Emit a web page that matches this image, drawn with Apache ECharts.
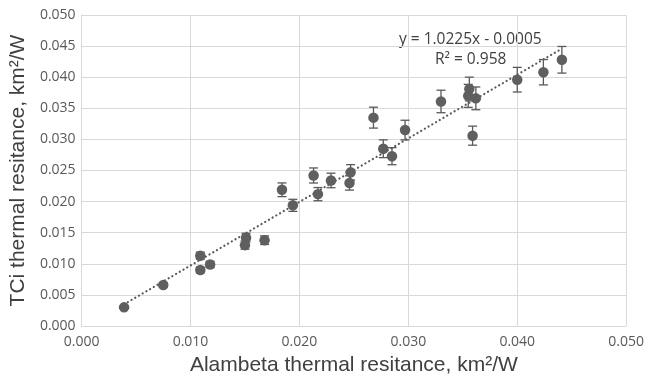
<!DOCTYPE html>
<html>
<head>
<meta charset="utf-8">
<script src="https://cdn.jsdelivr.net/npm/echarts@6/dist/echarts.min.js"></script>
<style>html,body{margin:0;padding:0;background:#fff}#c{width:647px;height:381px}</style>
</head>
<body>
<div id="c"></div>
<script>
// Alambeta thermal resistance (x) vs TCi thermal resistance (y), km2/W
const alambeta = [0.0039, 0.0075, 0.0109, 0.0109, 0.0118, 0.0150, 0.0151, 0.0168, 0.0184, 0.0194,
  0.0213, 0.0217, 0.0229, 0.0247, 0.0246, 0.0268, 0.0277, 0.0285, 0.0297, 0.0330,
  0.0356, 0.0355, 0.0362, 0.0359, 0.0400, 0.0424, 0.0441];
const tci = [0.0030, 0.0066, 0.0090, 0.0113, 0.0099, 0.0130, 0.0142, 0.0138, 0.0219, 0.0194,
  0.0242, 0.0212, 0.0234, 0.0247, 0.0230, 0.0335, 0.0285, 0.0273, 0.0315, 0.0361,
  0.0381, 0.0370, 0.0366, 0.0306, 0.0396, 0.0408, 0.0428];
const tciError = [0.00015, 0.00033, 0.00045, 0.00057, 0.00050, 0.00065, 0.00071, 0.00069, 0.00110, 0.00097,
  0.00121, 0.00106, 0.00117, 0.00124, 0.00115, 0.00168, 0.00143, 0.00137, 0.00158, 0.00181,
  0.00191, 0.00185, 0.00183, 0.00153, 0.00198, 0.00204, 0.00214];
const trendSlope = 1.0225;
const trendIntercept = -0.0005;
const equationText = 'y = 1.0225x - 0.0005';
const r2Text = 'R² = 0.958';

const points = alambeta.map((x, i) => [x, tci[i]]);
const errData = alambeta.map((x, i) => [x, tci[i] - tciError[i], tci[i] + tciError[i]]);
const xMin = Math.min(...alambeta), xMax = Math.max(...alambeta);
const trend = [[xMin, trendSlope * xMin + trendIntercept], [xMax, trendSlope * xMax + trendIntercept]];

const chart = echarts.init(document.getElementById('c'));
const labelColor = '#595959';
const gridColor = '#d9d9d9';
chart.setOption({
  animation: false,
  grid: { left: 80.5, right: 20.5, top: 15, bottom: 50, containLabel: false },
  xAxis: {
    type: 'value', min: 0, max: 0.05, interval: 0.01,
    name: 'Alambeta thermal resitance, km²/W', nameLocation: 'middle', nameGap: 29,
    nameTextStyle: { fontFamily: 'Liberation Sans', fontSize: 21, color: '#404040' },
    axisLine: { show: true, lineStyle: { color: gridColor } },
    axisTick: { show: false },
    axisLabel: { color: labelColor, fontFamily: 'Open Sans', fontSize: 14, margin: 9, formatter: v => v.toFixed(3) },
    splitLine: { show: true, lineStyle: { color: gridColor, width: 1 } }
  },
  yAxis: {
    type: 'value', min: 0, max: 0.05, interval: 0.005,
    name: 'TCi thermal resitance, km²/W', nameLocation: 'middle', nameGap: 52,
    nameTextStyle: { fontFamily: 'Liberation Sans', fontSize: 21, color: '#404040' },
    axisLine: { show: true, lineStyle: { color: gridColor } },
    axisTick: { show: false },
    axisLabel: { color: labelColor, fontFamily: 'Open Sans', fontSize: 14, margin: 6, formatter: v => v.toFixed(3) },
    splitLine: { show: true, lineStyle: { color: gridColor, width: 1 } }
  },
  series: [
    {
      type: 'line', data: trend, symbol: 'none', silent: true,
      lineStyle: { color: '#595959', width: 2.2, type: [0.1, 4.2], cap: 'round' }, z: 3
    },
    {
      type: 'custom', data: errData, z: 4,
      renderItem: function (params, api) {
        const x = api.value(0);
        const lo = api.coord([x, api.value(1)]);
        const hi = api.coord([x, api.value(2)]);
        const cap = 4.5;
        const st = { stroke: '#595959', lineWidth: 1.3 };
        return { type: 'group', children: [
          { type: 'line', shape: { x1: lo[0], y1: lo[1], x2: hi[0], y2: hi[1] }, style: st },
          { type: 'line', shape: { x1: lo[0] - cap, y1: lo[1], x2: lo[0] + cap, y2: lo[1] }, style: st },
          { type: 'line', shape: { x1: hi[0] - cap, y1: hi[1], x2: hi[0] + cap, y2: hi[1] }, style: st }
        ] };
      }
    },
    {
      type: 'scatter', data: points, symbol: 'circle', symbolSize: 10.5, z: 5,
      itemStyle: { color: '#5f5f5f', opacity: 1 }
    }
  ],
  graphic: [
    { type: 'text', left: 399, top: 32, style: { text: equationText, fontFamily: 'Open Sans', fontSize: 15.5, fill: '#404040' } },
    { type: 'text', left: 435, top: 52, style: { text: r2Text, fontFamily: 'Open Sans', fontSize: 15.5, fill: '#404040' } }
  ]
});
</script>
</body>
</html>
